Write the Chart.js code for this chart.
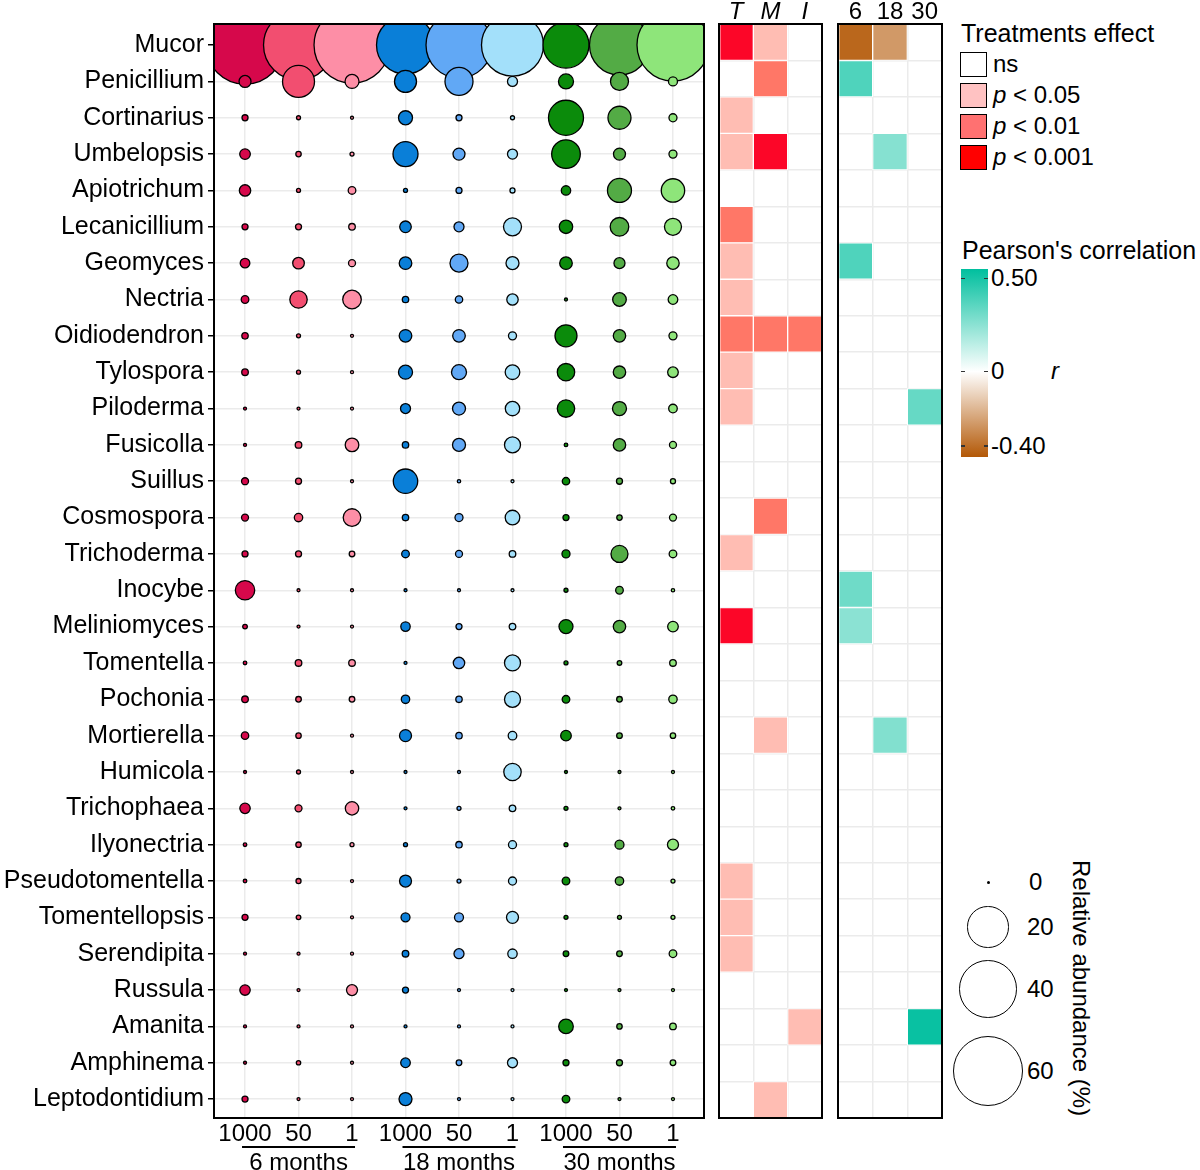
<!DOCTYPE html>
<html>
<head>
<meta charset="utf-8">
<script src="https://cdn.jsdelivr.net/npm/chart.js@4.4.1/dist/chart.umd.min.js"></script>
<style>
  body { margin: 0; background: #fff; }
  #wrap { position: relative; width: 1200px; height: 1170px; overflow: hidden;
          font-family: 'Liberation Sans', Arial, sans-serif; color: #000; }
  canvas { position: absolute; top: 0; }
  .lg { position: absolute; white-space: nowrap; font-size: 24px; line-height: 28px; }
</style>
</head>
<body>
<div id="wrap">
  <canvas id="bubbleChart" width="712" height="1170" style="left:0"></canvas>
  <canvas id="sigChart" width="115" height="1170" style="left:712px"></canvas>
  <canvas id="corChart" width="115" height="1170" style="left:830px"></canvas>
  <div id="legends"></div>
</div>
<script>
// genera, top to bottom
const genera = ['Mucor', 'Penicillium', 'Cortinarius', 'Umbelopsis', 'Apiotrichum', 'Lecanicillium',
  'Geomyces', 'Nectria', 'Oidiodendron', 'Tylospora', 'Piloderma', 'Fusicolla', 'Suillus',
  'Cosmospora', 'Trichoderma', 'Inocybe', 'Meliniomyces', 'Tomentella', 'Pochonia', 'Mortierella',
  'Humicola', 'Trichophaea', 'Ilyonectria', 'Pseudotomentella', 'Tomentellopsis', 'Serendipita',
  'Russula', 'Amanita', 'Amphinema', 'Leptodontidium'];
const doses = ['1000', '50', '1'];
const periods = ['6 months', '18 months', '30 months'];

// relative abundance (%), one array per period / dose
const ab6m1000 = [78, 1.73, 0.35, 1.33, 1.55, 0.35, 1.07, 0.63, 0.41, 0.44, 0, 0, 0.51, 0.51, 0.35,
  4.71, 0.16, 0.05, 0.44, 0.59, 0, 1.27, 0.05, 0.05, 0.35, 0, 1.27, 0, 0, 0.35];
const ab6m50 = [62.7, 13.0, 0.09, 0.26, 0.09, 0.35, 1.61, 3.77, 0.09, 0.09, 0, 0.44, 0.35, 0.79, 0.35,
  0, 0, 0.44, 0.29, 0.26, 0.09, 0.51, 0.26, 0.21, 0.16, 0, 0, 0, 0.13, 0];
const ab6m1 = [73.9, 2.4, 0, 0.09, 0.63, 0.44, 0.51, 4.32, 0, 0, 0, 2.26, 0, 3.86, 0.29,
  0, 0, 0.44, 0.29, 0, 0, 2.19, 0.09, 0, 0, 0, 1.44, 0, 0, 0];
const ab18m1000 = [43, 6.09, 2.4, 7.9, 0.09, 1.61, 1.92, 0.41, 1.92, 2.4, 1.17, 0.41, 7.52, 0.41, 0.63,
  0, 1.02, 0, 0.79, 1.73, 0, 0, 0.09, 1.73, 0.92, 0.44, 0.35, 0, 1.07, 2.05];
const ab18m50 = [55.7, 9.94, 0.35, 1.73, 0.35, 1.17, 4.04, 0.59, 1.92, 2.77, 2.05, 2.05, 0.03, 0.71, 0.51,
  0, 0.35, 1.55, 0.41, 0.41, 0, 0.09, 0.41, 0.09, 0.92, 1.17, 0, 0, 0.29, 0];
const ab18m1 = [49.2, 1.17, 0.09, 1.17, 0.21, 4.04, 2.05, 1.55, 0.71, 2.62, 2.54, 3.17, 0, 2.62, 0.44,
  0, 0.44, 3.17, 3.17, 0.83, 3.77, 0.44, 0.71, 0.71, 1.73, 1.02, 0, 0, 1.17, 0];
const ab30m1000 = [27, 2.77, 15.6, 10.4, 1.02, 2.19, 1.92, 0, 6.09, 3.77, 3.77, 0.05, 0.59, 0.35, 0.71,
  0.09, 2.4, 0.09, 0.63, 1.33, 0, 0.09, 0.09, 0.63, 0.09, 0.29, 0, 2.62, 0.35, 0.63];
const ab30m50 = [46, 4.04, 6.67, 1.73, 7.27, 4.32, 1.44, 2.26, 1.86, 1.86, 2.4, 1.86, 0.35, 0.26, 3.59,
  0.63, 1.86, 0.16, 0.29, 0.29, 0, 0, 0.92, 0.79, 0.09, 0.29, 0, 0.26, 0.35, 0];
const ab30m1 = [66.3, 0.92, 0.71, 0.71, 6.9, 3.59, 1.86, 1.07, 0.71, 1.33, 0.83, 0.51, 0.21, 0.51, 0.63,
  0.03, 1.33, 0.44, 0.79, 0.26, 0, 0.05, 1.44, 0.09, 0.09, 0.63, 0, 0.44, 0.29, 0];
const abundance = [ab6m1000, ab6m50, ab6m1, ab18m1000, ab18m50, ab18m1, ab30m1000, ab30m50, ab30m1];
const colColors = ['#d6084b', '#f24e70', '#fd8ea6', '#0a7fd8', '#61a8f5', '#a3e0fa', '#0b8b0b', '#53ab45', '#8ee57a'];

// treatment effects: 0 ns, 1 p<0.05, 2 p<0.01, 3 p<0.001
const effectNames = ['T', 'M', 'I'];
const effT = [3, 0, 1, 1, 0, 2, 1, 1, 2, 1, 1, 0, 0, 0, 1, 0, 3, 0, 0, 0, 0, 0, 0, 1, 1, 1, 0, 0, 0, 0];
const effM = [1, 2, 0, 3, 0, 0, 0, 0, 2, 0, 0, 0, 0, 2, 0, 0, 0, 0, 0, 1, 0, 0, 0, 0, 0, 0, 0, 0, 0, 1];
const effI = [0, 0, 0, 0, 0, 0, 0, 0, 2, 0, 0, 0, 0, 0, 0, 0, 0, 0, 0, 0, 0, 0, 0, 0, 0, 0, 0, 1, 0, 0];
const effLabels = ['ns', '<i>p</i> &lt; 0.05', '<i>p</i> &lt; 0.01', '<i>p</i> &lt; 0.001'];
const effFill = ['#ffffff', '#ffbdb3', '#ff7767', '#fc0628'];
const effKey = ['#ffffff', '#ffc2c2', '#ff7171', '#ff0000'];

// Pearson's r per period (0 = not shown)
const corPeriods = ['6', '18', '30'];
const cor6 = [-0.42, 0.38, 0, 0, 0, 0, 0.38, 0, 0, 0, 0, 0, 0, 0, 0, 0.31, 0.25, 0, 0, 0, 0, 0, 0, 0, 0, 0, 0, 0, 0, 0];
const cor18 = [-0.28, 0, 0, 0.26, 0, 0, 0, 0, 0, 0, 0, 0, 0, 0, 0, 0, 0, 0, 0, 0.27, 0, 0, 0, 0, 0, 0, 0, 0, 0, 0];
const cor30 = [0, 0, 0, 0, 0, 0, 0, 0, 0, 0, 0.33, 0, 0, 0, 0, 0, 0, 0, 0, 0, 0, 0, 0, 0, 0, 0, 0, 0.53, 0, 0];
const corTicks = [0.5, 0, -0.4];
const sizeBreaks = [0, 20, 40, 60];

Chart.defaults.font.family = "'Liberation Sans', Arial, sans-serif";
Chart.defaults.color = '#000';

const radius = v => Math.sqrt(2.25 + 19.5 * v);

const corHigh = [0, 191, 158], corLow = [179, 88, 6], corMax = 0.55, corMin = -0.46;
function corColor(v) {
  const end = v >= 0 ? corHigh : corLow;
  const f = Math.min(1, v >= 0 ? v / corMax : v / corMin);
  const c = end.map(e => Math.round(255 + (e - 255) * f));
  return `rgb(${c[0]},${c[1]},${c[2]})`;
}

const frame = {
  id: 'frame',
  afterDraw(chart) {
    const { ctx, chartArea: a } = chart;
    ctx.save();
    ctx.strokeStyle = '#000';
    ctx.lineWidth = 2;
    ctx.strokeRect(a.left, a.top, a.right - a.left, a.bottom - a.top);
    ctx.restore();
  }
};

// period brackets under the dose labels
const groupLabels = {
  id: 'groupLabels',
  afterDraw(chart) {
    const { ctx, chartArea: a, scales: { x } } = chart;
    ctx.save();
    ctx.strokeStyle = '#000';
    ctx.lineWidth = 2;
    ctx.fillStyle = '#000';
    ctx.font = "24px 'Liberation Sans', Arial, sans-serif";
    ctx.textAlign = 'center';
    ctx.textBaseline = 'middle';
    periods.forEach((p, g) => {
      const x0 = x.getPixelForValue(g * 3) - 3, x1 = x.getPixelForValue(g * 3 + 2) + 3;
      ctx.beginPath();
      ctx.moveTo(x0, a.bottom + 29);
      ctx.lineTo(x1, a.bottom + 29);
      ctx.stroke();
      ctx.fillText(p, x.getPixelForValue(g * 3 + 1), a.bottom + 45);
    });
    ctx.restore();
  }
};

new Chart(document.getElementById('bubbleChart'), {
  type: 'bubble',
  data: {
    datasets: abundance.map((vals, c) => ({
      label: periods[Math.floor(c / 3)] + ' ' + doses[c % 3],
      data: vals.map((v, i) => ({ x: c, y: i, r: radius(v) })),
      backgroundColor: colColors[c],
      borderColor: '#000',
      borderWidth: 1.3,
      order: abundance.length - c,
      clip: 0
    }))
  },
  options: {
    responsive: false,
    animation: false,
    layout: { autoPadding: false, padding: { top: 24, right: 8, left: 0, bottom: 0 } },
    plugins: { legend: { display: false }, tooltip: { enabled: false } },
    scales: {
      x: {
        type: 'linear', min: -0.58, max: 8.58,
        afterBuildTicks: s => { s.ticks = abundance.map((_, c) => ({ value: c })); },
        ticks: { autoSkip: false, maxRotation: 0, callback: v => doses[v % 3], font: { size: 24 }, padding: 2 },
        grid: { color: '#ebebeb', lineWidth: 1.5, drawTicks: false },
        border: { display: false },
        afterFit: s => { s.height = 52; }
      },
      y: {
        type: 'linear', reverse: true, min: -0.58, max: 29.52,
        afterBuildTicks: s => { s.ticks = genera.map((_, i) => ({ value: i })); },
        ticks: { autoSkip: false, callback: v => genera[v], font: { size: 25 }, padding: 4 },
        grid: { color: '#ebebeb', lineWidth: 1.5, tickColor: '#000', tickWidth: 1.5, tickLength: 6 },
        border: { display: false },
        afterFit: s => { s.width = 214; }
      }
    }
  },
  plugins: [frame, groupLabels]
});

function heatmap(id, columns, labels, fill, padLeft, padRight, italic) {
  return new Chart(document.getElementById(id), {
    type: 'bar',
    data: {
      labels: genera,
      datasets: columns.map((vals, c) => ({
        label: labels[c],
        data: vals.map(v => (v ? [c, c + 1] : null)),
        backgroundColor: vals.map(fill),
        borderColor: '#ffffff',
        borderWidth: 1,
        borderSkipped: false,
        grouped: false,
        barPercentage: 1,
        categoryPercentage: 1,
        xAxisID: 'x'
      }))
    },
    options: {
      indexAxis: 'y',
      responsive: false,
      animation: false,
      layout: { autoPadding: false, padding: { left: padLeft, right: padRight, top: 0, bottom: 52 } },
      plugins: { legend: { display: false }, tooltip: { enabled: false } },
      scales: {
        x: {
          type: 'linear', min: 0, max: 3, position: 'bottom',
          ticks: { display: false, stepSize: 1 },
          grid: { color: '#ebebeb', lineWidth: 1.5, drawTicks: false },
          border: { display: false },
          afterFit: s => { s.height = 0; }
        },
        x2: {
          axis: 'x', type: 'category', position: 'top', labels: labels, offset: true,
          grid: { display: false, drawTicks: false },
          border: { display: false },
          ticks: { font: { size: 24, lineHeight: 1, style: italic ? 'italic' : 'normal' }, padding: 0 },
          afterFit: s => { s.height = 24; }
        },
        y: {
          type: 'category',
          ticks: { display: false },
          grid: { color: '#ebebeb', lineWidth: 1.5, drawTicks: false },
          border: { display: false },
          afterFit: s => { s.width = 0; }
        }
      }
    },
    plugins: [frame]
  });
}

heatmap('sigChart', [effT, effM, effI], effectNames, v => effFill[v], 7, 5, true);
heatmap('corChart', [cor6, cor18, cor30], corPeriods, corColor, 8, 3, false);

// legends
const box = document.getElementById('legends');
function put(html, left, cy, extra) {
  const d = document.createElement('div');
  d.className = 'lg';
  d.innerHTML = html;
  d.style.left = left + 'px';
  d.style.top = (cy - 14) + 'px';
  if (extra) Object.assign(d.style, extra);
  box.appendChild(d);
  return d;
}
function shape(left, top, w, h, style) {
  const d = document.createElement('div');
  Object.assign(d.style, { position: 'absolute', left: left + 'px', top: top + 'px',
    width: w + 'px', height: h + 'px', boxSizing: 'border-box' }, style);
  box.appendChild(d);
  return d;
}

put('Treatments effect', 961, 33, { fontSize: '25px' });
effLabels.forEach((t, k) => {
  const cy = 64 + 31 * k;
  shape(960, cy - 12.5, 27, 25, { background: effKey[k], border: '1.5px solid #000' });
  put(t, 993, cy);
});

put("Pearson's correlation", 962, 250, { fontSize: '25px' });
const barTop = 269, barBottom = 457;
const zeroY = barTop + (barBottom - barTop) * corMax / (corMax - corMin);
const hi = `rgb(${corHigh.join(',')})`, lo = `rgb(${corLow.join(',')})`;
shape(961, barTop, 27, barBottom - barTop, {
  background: `linear-gradient(to bottom, ${hi} 0%, #ffffff ${((zeroY - barTop) / (barBottom - barTop) * 100).toFixed(1)}%, ${lo} 100%)`
});
corTicks.forEach(v => {
  const y = v >= 0 ? zeroY - (zeroY - barTop) * v / corMax : zeroY + (barBottom - zeroY) * v / corMin;
  shape(961, y - 0.75, 4, 1.5, { background: '#333' });
  shape(984, y - 0.75, 4, 1.5, { background: '#333' });
  put(v === 0 ? '0' : v.toFixed(2), 991, y);
});
put('<i>r</i>', 1051, zeroY);

const sizeY = [882, 927, 989, 1071];
sizeBreaks.forEach((v, k) => {
  const r = radius(v);
  if (v === 0) {
    shape(986.5, sizeY[k] - 1.5, 3, 3, { background: '#000', borderRadius: '50%' });
  } else {
    shape(988 - r - 0.75, sizeY[k] - r - 0.75, 2 * r + 1.5, 2 * r + 1.5,
      { border: '1.5px solid #000', borderRadius: '50%', background: '#fff' });
  }
  put(String(v), v === 0 ? 1029 : 1027, sizeY[k]);
});
put('Relative abundance (%)', 956, 985, { width: '250px', textAlign: 'center', transform: 'rotate(90deg)', left: '956px' });
</script>
</body>
</html>
